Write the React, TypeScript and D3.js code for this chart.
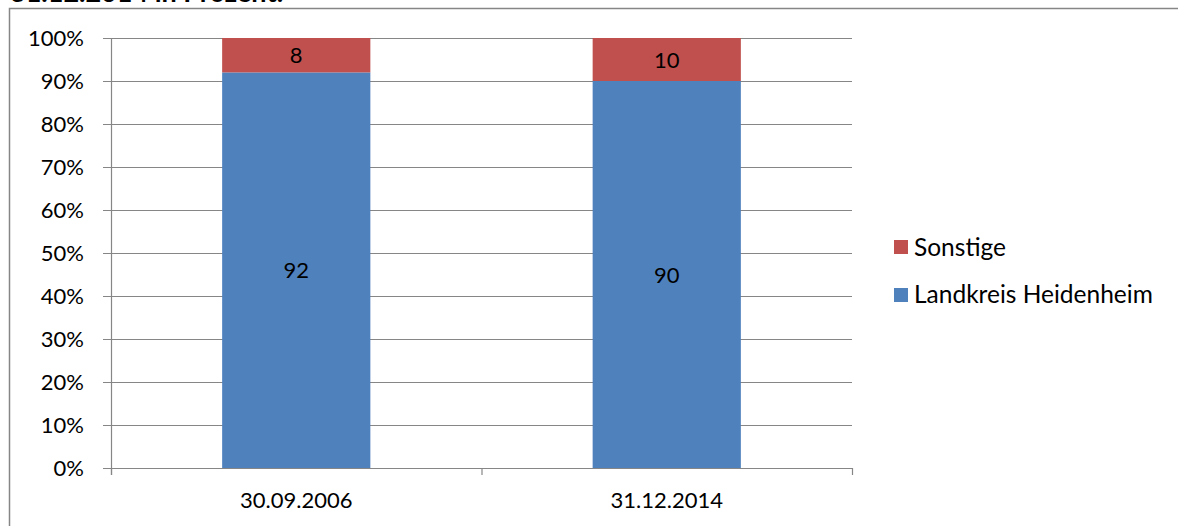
import React from "react";
import * as d3 from "d3";

const categories = ["30.09.2006", "31.12.2014"];
const landkreis = [92, 90];
const sonstige = [8, 10];
const yTicks = [0, 10, 20, 30, 40, 50, 60, 70, 80, 90, 100];
const seriesNames = ["Sonstige", "Landkreis Heidenheim"];
const titleText = "31.12.2014 in Prozent:";

const W = 1179;
const H = 526;
const FONT = "Lato, 'Open Sans', sans-serif";
const BLUE = "#4F81BD";
const RED = "#C0504D";
const GRID = "#868686";

export default function App() {
  const plotL = 111, plotR = 852, plotT = 38, plotB = 468;
  const y = d3.scaleLinear().domain([0, 100]).range([plotB, plotT]);
  const x = d3.scaleBand<string>().domain(categories).range([plotL, plotR]).paddingInner(0.6).paddingOuter(0.3);
  const step = x.step();
  const fs = 22;
  const lfs = 24.5;

  return (
    <svg width={W} height={H} style={{ position: "absolute", left: 0, top: 0, background: "#fff" }} fontFamily={FONT}>
      <rect x={0} y={0} width={W} height={H} fill="#fff" />
      <text x={10} y={2} fontSize={27} fontWeight="bold" fill="#000">{titleText}</text>
      <path d={`M9.5,${H} V8.5 H1178`} fill="none" stroke={GRID} strokeWidth={1.5} />
      {yTicks.map((t) => (
        <g key={t}>
          <line x1={plotL - 8} x2={plotR} y1={Math.round(y(t)) + 0.5} y2={Math.round(y(t)) + 0.5} stroke={GRID} strokeWidth={1.2} />
          <text x={84} y={y(t) + 8} fontSize={fs} textAnchor="end" fill="#000">{t}%</text>
        </g>
      ))}
      <line x1={plotL + 0.5} x2={plotL + 0.5} y1={plotT} y2={plotB + 7} stroke={GRID} strokeWidth={1.2} />
      {d3.range(categories.length + 1).map((i) => (
        <line key={i} x1={plotL + i * step + 0.5} x2={plotL + i * step + 0.5} y1={plotB} y2={plotB + 7} stroke={GRID} strokeWidth={1.2} />
      ))}
      {categories.map((c, i) => {
        const x0 = x(c)!;
        const bw = x.bandwidth();
        const b0 = y(0), b1 = y(landkreis[i]), b2 = y(landkreis[i] + sonstige[i]);
        return (
          <g key={c}>
            <rect x={x0} y={b1} width={bw} height={b0 - b1} fill={BLUE} />
            <rect x={x0} y={b2} width={bw} height={b1 - b2} fill={RED} />
            <text x={x0 + bw / 2} y={(b0 + b1) / 2 + 8} fontSize={fs} textAnchor="middle">{landkreis[i]}</text>
            <text x={x0 + bw / 2} y={(b1 + b2) / 2 + 8} fontSize={fs} textAnchor="middle">{sonstige[i]}</text>
            <text x={x0 + bw / 2} y={508} fontSize={fs} textAnchor="middle">{c}</text>
          </g>
        );
      })}
      <rect x={894} y={240} width={14} height={14} fill={RED} />
      <text x={914} y={256} fontSize={lfs}>{seriesNames[0]}</text>
      <rect x={894} y={288} width={14} height={14} fill={BLUE} />
      <text x={914} y={303} fontSize={lfs}>{seriesNames[1]}</text>
    </svg>
  );
}
